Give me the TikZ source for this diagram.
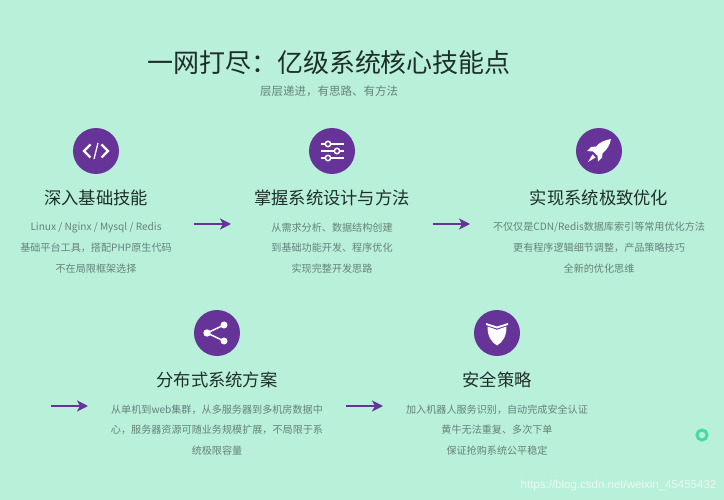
\documentclass[tikz,border=0pt]{standalone}
\usepackage{fontspec}
\setmainfont{Noto Sans CJK SC}
\newfontfamily\markfont{Liberation Sans}
\usetikzlibrary{
		calc,
		positioning,
		arrows.meta
	}
\definecolor{bgmint}{HTML}{B9F0DA}
\definecolor{mainpurple}{HTML}{663399}
\definecolor{headdark}{HTML}{1E2F2B}
\definecolor{bodygray}{HTML}{64827A}
\definecolor{ringgreen}{HTML}{44DDA0}
\tikzset{
		iconcircle/.style={circle,fill=mainpurple,minimum size=46pt,inner sep=0pt},
		headtext/.style={text=headdark,font=\fontsize{17.3pt}{20pt}\selectfont,inner sep=0pt},
		bodytext/.style={text=bodygray,font=\fontsize{10.1pt}{14pt}\selectfont,inner sep=0pt},
		steparrow/.style={-{Stealth[length=11pt,width=11pt,inset=3pt]},draw=mainpurple,fill=mainpurple,line width=1.7pt},
		pics/iconcode/.style={code={
			\draw[white,line width=2.4pt] (-5.5,-6.5) -- (-12,0) -- (-5.5,6.5) (5.5,-6.5) -- (12,0) -- (5.5,6.5);
			\draw[white,line width=1.3pt] (2,-8) -- (-2,8);
		}},
		pics/iconslider/.style={code={
			\draw[white,line width=1.8pt] (-11,-7) -- (12,-7) (-11,0) -- (12,0) (-11,7) -- (12,7);
			\foreach \kx/\ky in {-4/-7,5/0,-4/7}
				\draw[white,fill=mainpurple,line width=1.5pt] (\kx,\ky) circle (2.7);
		}},
		pics/iconrocket/.style={code={
			\fill[white] (12,-12) .. controls (6,-11) and (1,-9) .. (-3,-4.5) -- (-8,-4) -- (-12,0) -- (-6,.5)
			  -- (-1.5,5) -- (-1,10.5) -- (3,6.5) -- (3.5,2.5) .. controls (8,-1.5) and (11,-6) .. (12,-12) -- cycle;
			\fill[white] (-6.5,3.5) -- (-11,11) -- (-3.5,6.5) -- cycle;
		}},
		pics/iconshare/.style={code={
			\draw[white,line width=1.5pt] (7,-8) -- (-10,0) -- (7,8);
			\fill[white] (7,-8) circle (3.5) (-10,0) circle (3.7) (7,8) circle (3.5);
		}},
		pics/iconshield/.style={code={
			\fill[white] (-11,-10) -- (0,-6.5) -- (11,-10) -- (11,-8) -- (0,-4.5) -- (-11,-8) -- cycle;
			\fill[white] (-9.5,-6.5) -- (0,-3.2) -- (9.5,-6.5) .. controls (9.5,3) and (6,9) .. (0,12.5) .. controls (-6,9) and (-9.5,3) .. (-9.5,-6.5) -- cycle;
		}}
	}

\begin{document}
\begin{tikzpicture}[x=1pt, y=-1pt]
		\useasboundingbox[fill=bgmint] (0,0) rectangle (724,500);
		\node (title) at (329,63) [text=headdark,font=\fontsize{26pt}{30pt}\selectfont,inner sep=0pt] {一网打尽：亿级系统核心技能点};
		\node (subtitle) at (329,91) [text=bodygray,font=\fontsize{11.5pt}{14pt}\selectfont,inner sep=0pt] {层层递进，有思路、有方法};
		% the five blocks: icon, heading, three lines of text
		\foreach \nm/\cx/\cy/\ico/\hd/\la/\lb/\lc in {
			base/96/151/iconcode/深入基础技能/{Linux / Nginx / Mysql / Redis}/基础平台工具，搭配PHP原生代码/不在局限框架选择,
			design/332/151/iconslider/掌握系统设计与方法/从需求分析、数据结构创建/到基础功能开发、程序优化/实现完整开发思路,
			tune/599/151/iconrocket/实现系统极致优化/{不仅仅是CDN/Redis数据库索引等常用优化方法}/更有程序逻辑细节调整，产品策略技巧/全新的优化思维,
			dist/217/333/iconshare/分布式系统方案/从单机到web集群，从多服务器到多机房数据中/心，服务器资源可随业务规模扩展，不局限于系/统极限容量,
			safe/497/333/iconshield/安全策略/加入机器人服务识别，自动完成安全认证/黄牛无法重复、多次下单/保证抢购系统公平稳定
		}{
			\node[iconcircle] (\nm) at (\cx,\cy) {};
			\pic at (\nm) {\ico};
			\node[headtext] (\nm head) at (\cx,\cy+47) {\hd};
			\node[bodytext] (\nm la) at (\cx,\cy+76.5) {\la};
			\node[bodytext] (\nm lb) at (\cx,\cy+97) {\lb};
			\node[bodytext] (\nm lc) at (\cx,\cy+117.5) {\lc};
		}
		% the arrows have free ends
		\foreach \i/\ax/\ay in {1/194/224,2/433/224,3/51/406,4/346/406}{
			\coordinate (from\i) at (\ax,\ay);
			\coordinate (to\i) at (\ax+37,\ay);
			\draw[steparrow] (from\i) -- (to\i);
		}
		\node (ring) at (702,435) [circle,draw=ringgreen,line width=3pt,minimum size=10pt,inner sep=0pt] {};
		\node (mark) at (618.5,486) [text=white!70!bgmint,font=\markfont\fontsize{11.5pt}{14pt}\selectfont,inner sep=0pt] {https://blog.csdn.net/weixin\_45455432};
	\end{tikzpicture}
\end{document}
